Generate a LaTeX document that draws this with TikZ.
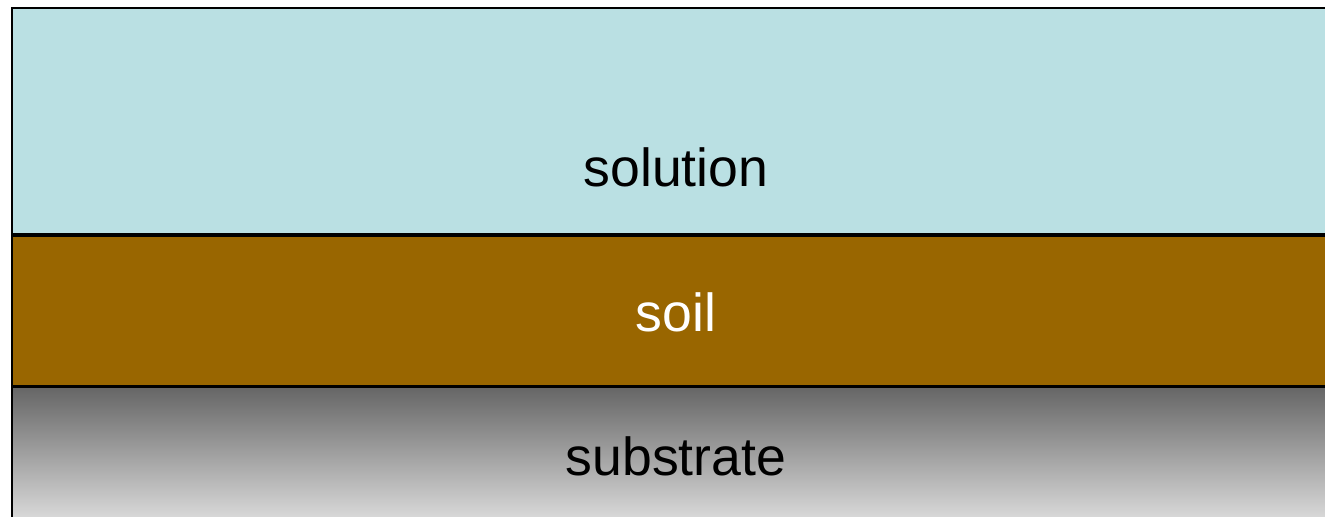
\documentclass[tikz,border=0pt]{standalone}
\usepackage{fontspec}
\setsansfont{Liberation Sans}
\usetikzlibrary{positioning}
\definecolor{solutioncol}{HTML}{BAE0E3}
\definecolor{soilcol}{HTML}{996600}
\tikzset{%
  % Specifications for style of layers:
  layer/.style = {rectangle, draw=black, line width=0.9pt, anchor=north west,
                  minimum width=27cm, inner sep=0pt},
  word/.style = {font=\sffamily\fontsize{30.5}{36}\selectfont}
}
\begin{document}
\begin{tikzpicture}
  \useasboundingbox (0,0) rectangle (26.5,10.34);
  \node (solution)[layer, fill=solutioncol, minimum height=4.52cm] at (0.22,10.19) {};
  \node (soil)[layer, fill=soilcol, minimum height=3cm] at (solution.south west) {};
  \node (substrate)[layer, top color=black!60, bottom color=black!14, minimum height=2.68cm] at (soil.south west) {};
  \node (solutionlbl)[word] at (13.52,7.0) {solution};
  \node (soillbl)[word, text=white] at (13.52,4.1) {soil};
  \node (substratelbl)[word] at (13.52,1.22) {substrate};
\end{tikzpicture}
\end{document}
